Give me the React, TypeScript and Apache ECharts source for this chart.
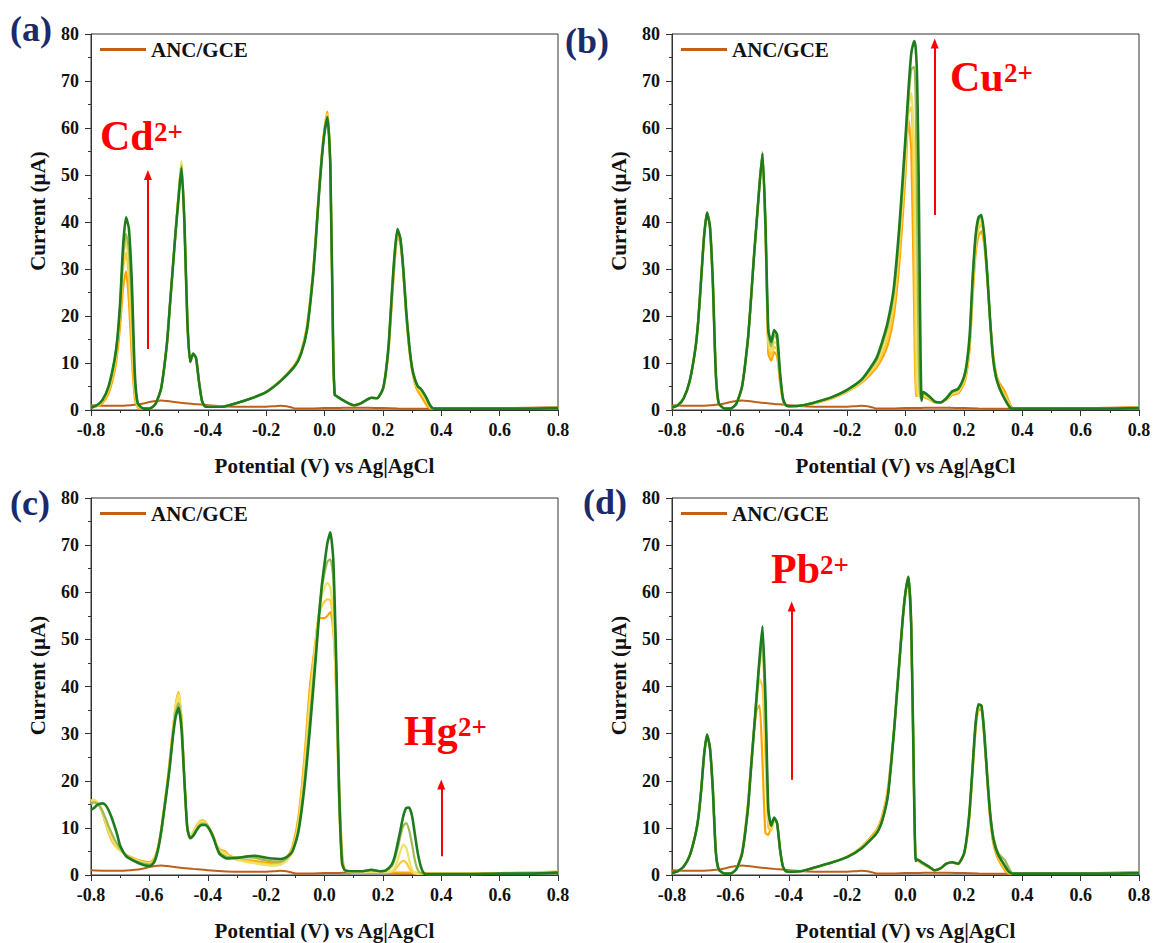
import React, { useEffect, useRef } from "react";
import * as echarts from "echarts";

// ---------- potential grids (V vs Ag|AgCl) ----------
const potentialFine = [-0.8, -0.78, -0.76, -0.74, -0.72, -0.71, -0.7, -0.69, -0.68, -0.67, -0.66, -0.65, -0.64, -0.62, -0.6, -0.58, -0.56, -0.54, -0.53, -0.52, -0.51, -0.5, -0.49, -0.48, -0.47, -0.46, -0.45, -0.44, -0.43, -0.42, -0.41, -0.4, -0.35, -0.3, -0.25, -0.2, -0.15, -0.1, -0.08, -0.06, -0.04, -0.03, -0.02, -0.01, 0, 0.01, 0.02, 0.03, 0.035, 0.04, 0.06, 0.08, 0.1, 0.12, 0.14, 0.16, 0.18, 0.2, 0.21, 0.22, 0.23, 0.24, 0.25, 0.26, 0.27, 0.28, 0.29, 0.3, 0.31, 0.32, 0.33, 0.34, 0.35, 0.36, 0.37, 0.38, 0.4, 0.5, 0.6, 0.7, 0.8];
const potentialCu = [-0.8, -0.78, -0.76, -0.74, -0.72, -0.71, -0.7, -0.69, -0.68, -0.67, -0.66, -0.65, -0.64, -0.62, -0.6, -0.58, -0.56, -0.54, -0.53, -0.52, -0.51, -0.5, -0.49, -0.48, -0.47, -0.46, -0.45, -0.44, -0.43, -0.42, -0.41, -0.4, -0.35, -0.3, -0.25, -0.2, -0.15, -0.1, -0.08, -0.06, -0.04, -0.02, 0, 0.01, 0.02, 0.03, 0.035, 0.04, 0.045, 0.05, 0.055, 0.06, 0.08, 0.1, 0.12, 0.14, 0.16, 0.18, 0.2, 0.21, 0.22, 0.23, 0.24, 0.25, 0.26, 0.27, 0.28, 0.29, 0.3, 0.31, 0.32, 0.33, 0.34, 0.35, 0.36, 0.37, 0.38, 0.4, 0.5, 0.6, 0.7, 0.8];
const potentialHg = [-0.8, -0.79, -0.78, -0.77, -0.76, -0.75, -0.74, -0.73, -0.72, -0.71, -0.7, -0.68, -0.66, -0.64, -0.62, -0.6, -0.59, -0.58, -0.57, -0.56, -0.55, -0.54, -0.53, -0.52, -0.51, -0.5, -0.49, -0.48, -0.47, -0.46, -0.45, -0.44, -0.43, -0.42, -0.41, -0.4, -0.39, -0.38, -0.37, -0.36, -0.35, -0.34, -0.33, -0.3, -0.27, -0.24, -0.21, -0.18, -0.15, -0.13, -0.11, -0.09, -0.07, -0.05, -0.03, -0.02, -0.01, 0, 0.01, 0.02, 0.03, 0.04, 0.05, 0.06, 0.07, 0.1, 0.13, 0.16, 0.19, 0.21, 0.23, 0.24, 0.25, 0.26, 0.27, 0.28, 0.29, 0.3, 0.31, 0.32, 0.33, 0.34, 0.35, 0.4, 0.5, 0.6, 0.7, 0.8];

// ---------- ANC/GCE blank ----------
const ancPotential = [-0.8, -0.75, -0.7, -0.65, -0.62, -0.6, -0.58, -0.56, -0.54, -0.5, -0.45, -0.4, -0.35, -0.3, -0.25, -0.2, -0.17, -0.15, -0.13, -0.11, -0.1, -0.05, 0, 0.05, 0.1, 0.15, 0.2, 0.25, 0.3, 0.4, 0.5, 0.6, 0.7, 0.8];
const ancCurrent = [1.0, 0.9, 0.9, 1.1, 1.4, 1.7, 1.9, 2.0, 1.9, 1.6, 1.3, 1.0, 0.8, 0.7, 0.7, 0.7, 0.8, 0.9, 0.8, 0.5, 0.3, 0.3, 0.4, 0.45, 0.5, 0.5, 0.4, 0.3, 0.25, 0.25, 0.3, 0.4, 0.5, 0.6];

// ---------- (a) Cd2+ ----------
const cdLevel1 = [0.5, 0.8, 1.5, 3.5, 8, 12, 18, 26, 29.5, 23, 11, 2.5, 0.6, 0.3, 0.3, 1.2, 4.5, 14, 22, 30, 38, 46, 52.5, 40, 19, 10.2, 12.0, 11.0, 6.0, 2.0, 0.8, 0.7, 0.7, 1.5, 2.5, 3.9, 6.3, 9.8, 12.5, 18, 29, 37, 46, 54, 60, 63.5, 52, 11, 3.2, 3.0, 2.2, 1.5, 1.0, 1.3, 2.0, 2.6, 2.5, 4.3, 7.5, 13, 22, 31, 37, 35.5, 29, 20, 13, 8.5, 5.5, 4, 3, 2, 1, 0.4, 0.3, 0.3, 0.3, 0.3, 0.3, 0.3, 0.5];
const cdLevel2 = [0.5, 0.9, 1.8, 4.2, 9, 13.5, 20.5, 30, 33.5, 28, 15, 4, 0.8, 0.3, 0.3, 1.2, 4.5, 14, 22, 30, 38, 46, 52.8, 40, 19, 10.2, 12.0, 11.0, 6.0, 2.0, 0.8, 0.7, 0.7, 1.5, 2.5, 3.9, 6.3, 9.7, 12.3, 17.5, 28.5, 36.5, 45.5, 53.5, 59.5, 63, 52, 11.5, 3.2, 3.0, 2.2, 1.5, 1.0, 1.3, 2.0, 2.6, 2.5, 4.4, 7.8, 13.5, 23, 32, 37.5, 36, 29.5, 20.5, 13.5, 8.8, 6, 4.5, 3.8, 2.8, 1.8, 0.7, 0.3, 0.3, 0.3, 0.3, 0.3, 0.3, 0.5];
const cdLevel3 = [0.5, 0.9, 2.0, 4.6, 9.8, 14.5, 22, 32, 36, 31, 19, 5.5, 1.0, 0.3, 0.3, 1.2, 4.5, 14, 22, 30, 38, 46, 53, 40, 19.5, 10.2, 12.0, 11.0, 6.0, 2.0, 0.8, 0.7, 0.7, 1.5, 2.5, 3.8, 6.2, 9.6, 12.2, 17.2, 28.2, 36.2, 45.2, 53.2, 59.2, 62.8, 52, 11.8, 3.2, 3.0, 2.2, 1.5, 1.0, 1.3, 2.0, 2.6, 2.5, 4.5, 7.9, 13.8, 23.5, 32.5, 38, 36.2, 29.8, 20.8, 13.8, 8.9, 6.3, 4.8, 4.2, 3.2, 2.2, 1.0, 0.4, 0.3, 0.3, 0.3, 0.3, 0.3, 0.5];
const cdLevel4 = [0.5, 1.0, 2.1, 4.8, 10.2, 14.8, 22.5, 33, 37.5, 34, 22, 6.5, 1.2, 0.3, 0.3, 1.2, 4.5, 14, 22, 30, 38, 45.5, 52, 40, 19.8, 10.2, 12.0, 11.0, 6.0, 2.0, 0.8, 0.7, 0.7, 1.5, 2.5, 3.8, 6.2, 9.5, 12.1, 17.1, 28.1, 36.1, 45.1, 53.1, 59.1, 62.5, 52, 12, 3.2, 3.0, 2.2, 1.5, 1.0, 1.3, 2.0, 2.6, 2.5, 4.5, 8, 14, 24, 33, 38.2, 36.4, 30, 21, 14, 9, 6.5, 5, 4.5, 3.5, 2.4, 1.1, 0.4, 0.3, 0.3, 0.3, 0.3, 0.3, 0.5];
const cdLevel5 = [0.5, 1.0, 2.2, 5.0, 10.5, 15, 23, 35, 41, 38.5, 27, 8, 1.5, 0.3, 0.3, 1.2, 4.5, 14, 22, 30, 38, 45, 51.5, 40, 19, 10.2, 12.0, 11.0, 6.0, 2.0, 0.8, 0.7, 0.7, 1.5, 2.5, 3.8, 6.2, 9.5, 12, 17, 28, 36, 45, 53, 59, 62.3, 52, 12, 3.2, 3.0, 2.2, 1.5, 1.0, 1.3, 2.0, 2.6, 2.5, 4.5, 8, 14, 24, 33, 38.5, 36.5, 30, 21, 14, 9, 6.5, 5, 4.5, 3.6, 2.5, 1.2, 0.4, 0.3, 0.3, 0.3, 0.3, 0.3, 0.4];

// ---------- (b) Cu2+ ----------
const cuLevel1 = [0.5, 1.0, 2.5, 6, 13, 19, 28, 37, 42, 39, 27, 8, 1.5, 0.3, 0.3, 1.3, 5, 15, 23, 32, 40, 48, 54, 38, 12, 10.5, 12.3, 11.5, 6, 2, 0.9, 0.8, 1.0, 1.6, 2.5, 3.9, 5.8, 9, 11, 14, 20, 32, 50, 62, 55, 20, 3.0, 3.0, 3.0, 3.0, 2.9, 2.8, 2.3, 1.6, 1.6, 2.2, 3.2, 3.5, 5.5, 8, 13, 24, 33, 37, 38, 35, 28, 19, 12, 8, 6, 5, 4, 2.5, 1.0, 0.3, 0.3, 0.3, 0.3, 0.3, 0.3, 0.6];
const cuLevel2 = [0.5, 1.0, 2.5, 6, 13, 19, 28, 37, 42, 39, 27, 8, 1.5, 0.3, 0.3, 1.3, 5, 15, 23, 32, 40, 48, 54.5, 39, 14, 11.5, 13.5, 12.8, 6.8, 2.2, 0.9, 0.8, 1.0, 1.7, 2.6, 4.0, 6.0, 9.5, 12, 15.5, 22, 35, 53, 63, 64.5, 38, 8, 3.0, 3.0, 3.0, 2.9, 3.0, 2.5, 1.7, 1.6, 2.3, 3.4, 3.8, 6, 8.8, 14, 25.5, 34.5, 38.5, 39.5, 36, 28.5, 19, 11.5, 7.5, 5.5, 4.2, 3.2, 2, 0.8, 0.3, 0.3, 0.3, 0.3, 0.3, 0.3, 0.5];
const cuLevel3 = [0.5, 1.0, 2.5, 6, 13, 19, 28, 37, 42, 39, 27, 8, 1.5, 0.3, 0.3, 1.3, 5, 15, 23, 32, 40, 48.5, 55, 39.5, 15, 12.5, 14.5, 14, 7.2, 2.3, 1.0, 0.8, 1.0, 1.7, 2.7, 4.1, 6.2, 10, 13, 17, 24, 37, 55, 64, 67.5, 55, 30, 8, 3.0, 3.0, 3.0, 3.2, 2.7, 1.7, 1.6, 2.4, 3.6, 4.0, 6.3, 9.2, 15, 26.5, 35.5, 39.5, 40.5, 36.5, 28.8, 19, 11.2, 7.2, 5.2, 3.8, 2.8, 1.6, 0.6, 0.3, 0.3, 0.3, 0.3, 0.3, 0.3, 0.5];
const cuLevel4 = [0.5, 1.0, 2.5, 6, 13, 19, 28, 37, 42, 39, 27, 8, 1.5, 0.3, 0.3, 1.3, 5, 15, 23, 32, 40, 48.2, 54.8, 40, 16, 13.5, 16, 15, 7.6, 2.4, 1.0, 0.8, 1.0, 1.8, 2.8, 4.2, 6.4, 10.5, 14, 18, 25, 38.5, 56.5, 66, 72.5, 73, 65, 40, 12, 2.5, 3.0, 3.6, 2.9, 1.8, 1.6, 2.5, 3.8, 4.3, 6.7, 9.6, 15.5, 27.5, 36.5, 40.5, 41, 36.8, 29, 19, 11, 7, 5, 3.6, 2.5, 1.4, 0.5, 0.3, 0.3, 0.3, 0.3, 0.3, 0.3, 0.5];
const cuLevel5 = [0.5, 1.0, 2.5, 6, 13, 19, 28, 37, 42, 39, 27, 8, 1.5, 0.3, 0.3, 1.3, 5, 15, 23, 32, 40, 48, 54.5, 40, 17, 14.5, 17, 16, 8, 2.5, 1.0, 0.8, 1.0, 1.8, 2.8, 4.3, 6.5, 11, 14.5, 19, 26, 40, 58, 68, 76, 78.5, 77, 70, 50, 20, 2, 3.8, 3.0, 1.8, 1.6, 2.5, 4.0, 4.5, 7, 10, 16, 28, 37, 41, 41.5, 37, 29, 19, 11, 7, 5, 3.5, 2.3, 1.2, 0.4, 0.3, 0.3, 0.3, 0.3, 0.3, 0.3, 0.4];

// ---------- (c) Hg2+ ----------
const hgLevel1 = [15.5, 15.8, 15.5, 14.5, 13, 11, 9, 7.5, 6.5, 5.8, 5.2, 4.3, 3.7, 3.2, 2.9, 2.7, 3.0, 4.0, 6, 9.5, 14, 19, 24.5, 30.5, 36, 38.8, 33, 20, 9.5, 8, 9, 10.3, 11.2, 11.6, 11.4, 10.5, 9.5, 8.2, 6.5, 5.5, 5.2, 5.0, 4.3, 3.5, 3.2, 3.0, 2.7, 2.5, 2.6, 3.5, 6, 12, 24, 40, 50, 54.5, 54.5, 54.5, 55, 55.8, 52, 40, 20, 5, 1.0, 0.5, 0.5, 0.5, 0.5, 0.5, 0.5, 0.5, 0.5, 0.5, 0.5, 0.5, 0.5, 0.5, 0.5, 0.4, 0.4, 0.4, 0.4, 0.3, 0.3, 0.4, 0.5, 0.7];
const hgLevel2 = [15.6, 15.9, 15.5, 14.6, 13.1, 11.2, 9.2, 7.7, 6.6, 5.9, 5.2, 4.2, 3.6, 3.1, 2.7, 2.5, 2.8, 3.8, 5.9, 9.3, 13.8, 18.8, 24.2, 30.2, 35.6, 38, 33, 20.2, 9.6, 7.9, 8.9, 10.2, 11.1, 11.5, 11.3, 10.4, 9.4, 8.1, 6.4, 5.3, 5.0, 4.8, 4.2, 3.3, 3.0, 2.7, 2.4, 2.2, 2.4, 3.2, 5.5, 11, 22.5, 38, 50, 55, 57, 58, 58.5, 58.3, 53.5, 38.5, 16, 4, 1.0, 0.6, 0.6, 0.6, 0.6, 0.6, 0.7, 1.0, 1.8, 2.6, 3.0, 2.6, 1.5, 0.6, 0.3, 0.3, 0.3, 0.3, 0.3, 0.3, 0.3, 0.4, 0.5, 0.6];
const hgLevel3 = [15.8, 16.0, 15.6, 14.8, 13.3, 11.4, 9.5, 8, 6.8, 6, 5.3, 4.2, 3.5, 3.0, 2.6, 2.4, 2.7, 3.7, 5.8, 9.2, 13.7, 18.7, 24, 30, 35.5, 38.5, 33, 20.5, 9.8, 7.8, 8.8, 10, 11, 11.3, 11.1, 10.3, 9.3, 8, 6.3, 5.2, 4.8, 4.5, 4, 3.2, 2.8, 2.5, 2.2, 2.0, 2.2, 3.0, 5, 10.5, 21, 36, 49, 55, 59, 61, 62, 61, 55, 38, 14, 3, 1.0, 0.6, 0.6, 0.7, 0.6, 0.6, 0.8, 1.5, 3, 5, 6.5, 5.8, 3.2, 1.2, 0.5, 0.3, 0.3, 0.3, 0.3, 0.3, 0.3, 0.4, 0.5, 0.7];
const hgLevel4 = [15.0, 15.4, 15.2, 14.6, 13.5, 12.0, 10.4, 9.0, 7.6, 6.6, 5.6, 4.2, 3.4, 2.8, 2.4, 2.2, 2.5, 3.5, 5.6, 8.8, 13.2, 18.2, 23.5, 29.5, 34.5, 36.5, 32.5, 20.5, 10, 7.8, 8.5, 9.6, 10.5, 10.9, 10.9, 10.4, 9.3, 7.9, 6.1, 4.8, 4.3, 4.0, 3.8, 3.8, 3.8, 3.7, 3.2, 2.9, 2.9, 3.5, 5, 9.5, 19, 33, 47, 55, 60.5, 64, 66.5, 67, 63, 44, 17, 3, 1.0, 0.8, 0.8, 1.0, 0.8, 0.9, 1.8, 3.2, 5.5, 8.2, 10.5, 11, 9.5, 6.5, 3, 1, 0.4, 0.3, 0.2, 0.2, 0.2, 0.3, 0.4, 0.5];
const hgLevel5 = [13.8, 14.2, 14.8, 15.1, 15.2, 14.8, 13.8, 12.3, 10.5, 8.5, 6.2, 4.0, 3.2, 2.6, 2.1, 1.9, 2.2, 3.2, 5.5, 9, 13.5, 18, 23, 29, 33.5, 35.5, 31, 20, 10, 7.8, 8.3, 9.3, 10.2, 10.6, 10.6, 10.2, 9.2, 7.8, 6, 4.5, 4, 3.6, 3.5, 3.6, 3.9, 4.1, 3.8, 3.5, 3.4, 3.8, 5, 9, 18, 31, 46, 54, 61, 66, 70.5, 72.7, 67, 46, 18, 2.5, 1.0, 0.8, 0.8, 1.1, 0.8, 1.0, 2.2, 3.8, 6.5, 9.5, 12.5, 14.2, 14.3, 12.5, 8.5, 4.5, 1.8, 0.4, 0.2, 0.2, 0.2, 0.3, 0.3, 0.5];

// ---------- (d) Pb2+ ----------
const pbLevel1 = [0.4, 0.8, 1.8, 4, 8.5, 12, 18, 25.5, 29.5, 27, 18, 5, 1.2, 0.3, 0.3, 1.3, 5, 15, 23, 30, 35, 36, 24, 9, 8.5, 10.5, 12, 11, 5.5, 1.8, 0.8, 0.7, 0.9, 1.8, 2.7, 3.9, 6.0, 9.5, 12.5, 18.5, 30.5, 38, 46, 54, 60, 63, 52, 14, 3.0, 3.0, 2.3, 1.6, 1.0, 1.4, 2.4, 2.6, 2.3, 4.2, 7.5, 13, 22, 30.5, 35, 35, 29, 20, 12, 7, 4.5, 3, 2, 1, 0.4, 0.3, 0.3, 0.3, 0.3, 0.3, 0.3, 0.3, 0.5];
const pbLevel2 = [0.4, 0.8, 1.8, 4, 8.5, 12, 18, 25.5, 29.6, 27, 18, 5, 1.2, 0.3, 0.3, 1.2, 4.6, 14.5, 22.5, 30, 37, 41.5, 40, 25, 10, 9.5, 11.5, 11, 5.5, 1.8, 0.8, 0.7, 0.9, 1.8, 2.7, 3.9, 5.9, 9.2, 12, 17.8, 30.2, 38, 46, 54, 60, 63.1, 52, 14.5, 3.0, 3.1, 2.4, 1.7, 1.0, 1.4, 2.4, 2.6, 2.4, 4.3, 7.7, 13.5, 22.5, 31, 35.5, 35.5, 29.5, 20.5, 12.5, 7.5, 5, 3.5, 2.5, 1.5, 0.7, 0.3, 0.3, 0.3, 0.3, 0.3, 0.3, 0.3, 0.5];
const pbLevel3 = [0.4, 0.8, 1.8, 4, 8.5, 12, 18, 25.5, 29.7, 27, 18, 5, 1.2, 0.3, 0.3, 1.2, 4.5, 14, 22, 30, 37.5, 44.5, 47, 33, 12, 10, 12, 11, 5.5, 1.8, 0.8, 0.7, 0.9, 1.8, 2.7, 3.8, 5.8, 9, 11.8, 17.5, 30, 38, 46, 54, 60, 63.2, 52, 14.8, 3.0, 3.2, 2.4, 1.8, 1.0, 1.4, 2.4, 2.7, 2.4, 4.4, 7.8, 13.8, 22.8, 31.5, 35.8, 35.8, 29.8, 20.8, 12.8, 7.8, 5.3, 3.8, 2.8, 1.8, 0.8, 0.3, 0.3, 0.3, 0.3, 0.3, 0.3, 0.3, 0.5];
const pbLevel4 = [0.4, 0.8, 1.8, 4, 8.5, 12, 18, 25.5, 29.8, 27, 18, 5, 1.2, 0.3, 0.3, 1.2, 4.5, 14, 22, 30, 38, 45.5, 49.5, 35, 13, 10.3, 12.1, 11, 5.5, 1.8, 0.8, 0.7, 0.9, 1.8, 2.7, 3.8, 5.7, 8.8, 11.5, 17, 30, 38, 46, 54, 60, 63.3, 52, 15, 3.0, 3.3, 2.5, 1.8, 1.0, 1.4, 2.4, 2.7, 2.4, 4.5, 8, 14, 23, 32, 36, 36, 30, 21, 13.5, 8.5, 6, 4.5, 3.8, 3.2, 2, 0.8, 0.3, 0.3, 0.3, 0.3, 0.3, 0.3, 0.5];
const pbLevel5 = [0.4, 0.8, 1.8, 4, 8.5, 12, 18, 25.5, 29.8, 27, 18, 5, 1.2, 0.3, 0.3, 1.2, 4.5, 14, 22, 30, 38, 46, 52.8, 38, 14, 10.5, 12.2, 11, 5.5, 1.8, 0.8, 0.7, 0.9, 1.8, 2.7, 3.8, 5.7, 8.8, 11.5, 17, 30, 38, 46, 54, 60, 63.3, 52, 15, 3.0, 3.3, 2.5, 1.8, 1.0, 1.4, 2.4, 2.7, 2.4, 4.5, 8, 14, 23, 32, 36.2, 36, 30, 21, 13, 8, 5.5, 4, 3, 2, 1, 0.4, 0.3, 0.3, 0.3, 0.3, 0.3, 0.3, 0.4];

// ---------- arrows: [potential, start current, end current] ----------
const arrowCd = [-0.605, 13, 50];
const arrowCu = [0.1, 41.5, 78];
const arrowHg = [0.4, 4, 19.2];
const arrowPb = [-0.39, 20.2, 57];

const xTicks = { min: -0.8, max: 0.8, interval: 0.2 };
const yTicks = { min: 0, max: 80, interval: 10 };

const FONT = "'Liberation Serif', 'Times New Roman', Times, serif";
const ANC_COLOR = "#BC601C";
const LEVEL_COLORS = ["#FFA500", "#FFCB3D", "#EFE26A", "#9CBB55", "#1E7B1E"];
const LABEL_BLUE = "#1B2A6B";

const PANELS = [
  { potential: potentialFine, curves: [cdLevel1, cdLevel2, cdLevel3, cdLevel4, cdLevel5], ion: "Cd", arrow: arrowCd },
  { potential: potentialCu, curves: [cuLevel1, cuLevel2, cuLevel3, cuLevel4, cuLevel5], ion: "Cu", arrow: arrowCu },
  { potential: potentialHg, curves: [hgLevel1, hgLevel2, hgLevel3, hgLevel4, hgLevel5], ion: "Hg", arrow: arrowHg },
  { potential: potentialFine, curves: [pbLevel1, pbLevel2, pbLevel3, pbLevel4, pbLevel5], ion: "Pb", arrow: arrowPb },
];

const GRIDS = [
  { left: 91, top: 34, width: 467, height: 376 },
  { left: 672, top: 34, width: 467, height: 376 },
  { left: 91, top: 498, width: 467, height: 377 },
  { left: 672, top: 498, width: 467, height: 377 },
];

// panel letters and ion labels (pixel placement of annotations)
const PANEL_LETTERS = [
  { text: "(a)", x: 10, y: 29 },
  { text: "(b)", x: 565, y: 41 },
  { text: "(c)", x: 10, y: 503 },
  { text: "(d)", x: 583, y: 502 },
];
const ION_LABELS = [
  { main: "Cd", x: 100, y: 115, supX: 154, supY: 118 },
  { main: "Cu", x: 950, y: 56, supX: 1004, supY: 59 },
  { main: "Hg", x: 404, y: 710, supX: 458, supY: 713 },
  { main: "Pb", x: 771, y: 548, supX: 820, supY: 551 },
];

function buildOption() {
  const axisColor = "#333";
  const labelStyle = { fontFamily: FONT, fontWeight: "bold" as const, fontSize: 18, color: "#111" };
  const nameStyle = { fontFamily: FONT, fontWeight: "bold" as const, fontSize: 21, color: "#111" };

  const series: any[] = [];
  PANELS.forEach((p, i) => {
    series.push({
      type: "line",
      name: "ANC/GCE",
      xAxisIndex: i,
      yAxisIndex: i,
      data: ancPotential.map((x, k) => [x, ancCurrent[k]]),
      showSymbol: false,
      symbol: "none",
      smooth: 0.3,
      lineStyle: { color: ANC_COLOR, width: 2 },
      itemStyle: { color: ANC_COLOR },
      silent: true,
      z: 3,
    });
    p.curves.forEach((c, j) => {
      const s: any = {
        type: "line",
        name: `${p.ion}2+ level ${j + 1}`,
        xAxisIndex: i,
        yAxisIndex: i,
        data: p.potential.map((x, k) => [x, c[k]]),
        showSymbol: false,
        symbol: "none",
        smooth: 0.2,
        lineStyle: { color: LEVEL_COLORS[j], width: j === 4 ? 2.6 : 2.2 },
        itemStyle: { color: LEVEL_COLORS[j] },
        silent: true,
        z: 4,
      };
      if (j === 4) {
        s.markLine = {
          silent: true,
          symbol: ["none", "triangle"],
          symbolSize: [8, 10],
          label: { show: false },
          lineStyle: { color: "#FF0000", width: 2, type: "solid" },
          emphasis: { disabled: true },
          data: [[{ coord: [p.arrow[0], p.arrow[1]] }, { coord: [p.arrow[0], p.arrow[2]] }]],
        };
      }
      series.push(s);
    });
  });

  const graphic: any[] = [];
  PANEL_LETTERS.forEach((l) => {
    graphic.push({
      type: "text",
      x: l.x,
      y: l.y,
      style: { text: l.text, fill: LABEL_BLUE, fontFamily: FONT, fontWeight: "bold", fontSize: 36, verticalAlign: "middle", align: "left" },
    });
  });
  ION_LABELS.forEach((l) => {
    graphic.push({
      type: "text",
      x: l.x,
      y: l.y,
      style: { text: l.main, fill: "#FF0000", fontFamily: FONT, fontWeight: "bold", fontSize: 42, verticalAlign: "top", align: "left" },
    });
    graphic.push({
      type: "text",
      x: l.supX,
      y: l.supY,
      style: { text: "2+", fill: "#FF0000", fontFamily: FONT, fontWeight: "bold", fontSize: 27, verticalAlign: "top", align: "left" },
    });
  });

  return {
    animation: false,
    backgroundColor: "#fff",
    grid: GRIDS.map((g) => ({ ...g, show: true, borderColor: axisColor, borderWidth: 1, backgroundColor: "transparent" })),
    legend: GRIDS.map((g) => ({
      data: ["ANC/GCE"],
      left: g.left + 9,
      top: g.top + 5,
      icon: "rect",
      itemWidth: 46,
      itemHeight: 3,
      padding: 0,
      selectedMode: false,
      textStyle: { ...nameStyle },
    })),
    xAxis: GRIDS.map((_, i) => ({
      type: "value",
      gridIndex: i,
      ...xTicks,
      axisLine: { show: true, onZero: false, lineStyle: { color: axisColor, width: 1 } },
      axisTick: { show: true, length: 6, lineStyle: { color: axisColor } },
      minorTick: { show: true, splitNumber: 2, length: 3, lineStyle: { color: axisColor } },
      splitLine: { show: false },
      axisLabel: {
        ...labelStyle,
        margin: 11,
        formatter: (v: number) => (Math.abs(v) < 1e-9 ? "0.0" : v.toFixed(1)),
      },
      name: "Potential (V) vs Ag|AgCl",
      nameLocation: "middle",
      nameGap: 45,
      nameTextStyle: nameStyle,
    })),
    yAxis: GRIDS.map((_, i) => ({
      type: "value",
      gridIndex: i,
      ...yTicks,
      axisLine: { show: true, onZero: false, lineStyle: { color: axisColor, width: 1 } },
      axisTick: { show: true, length: 6, lineStyle: { color: axisColor } },
      minorTick: { show: true, splitNumber: 2, length: 3, lineStyle: { color: axisColor } },
      splitLine: { show: false },
      axisLabel: { ...labelStyle, margin: 12 },
      name: "Current (\u00B5A)",
      nameLocation: "middle",
      nameGap: 43,
      nameTextStyle: { ...nameStyle, padding: [0, 0, 0, 22] },
    })),
    series,
    graphic,
  };
}

export default function App() {
  const ref = useRef<HTMLDivElement>(null);
  useEffect(() => {
    if (!ref.current) return;
    const chart = echarts.init(ref.current, undefined, { renderer: "svg" });
    chart.setOption(buildOption() as any);
    return () => chart.dispose();
  }, []);
  return <div ref={ref} style={{ position: "absolute", left: 0, top: 0, width: 1161, height: 943 }} />;
}
